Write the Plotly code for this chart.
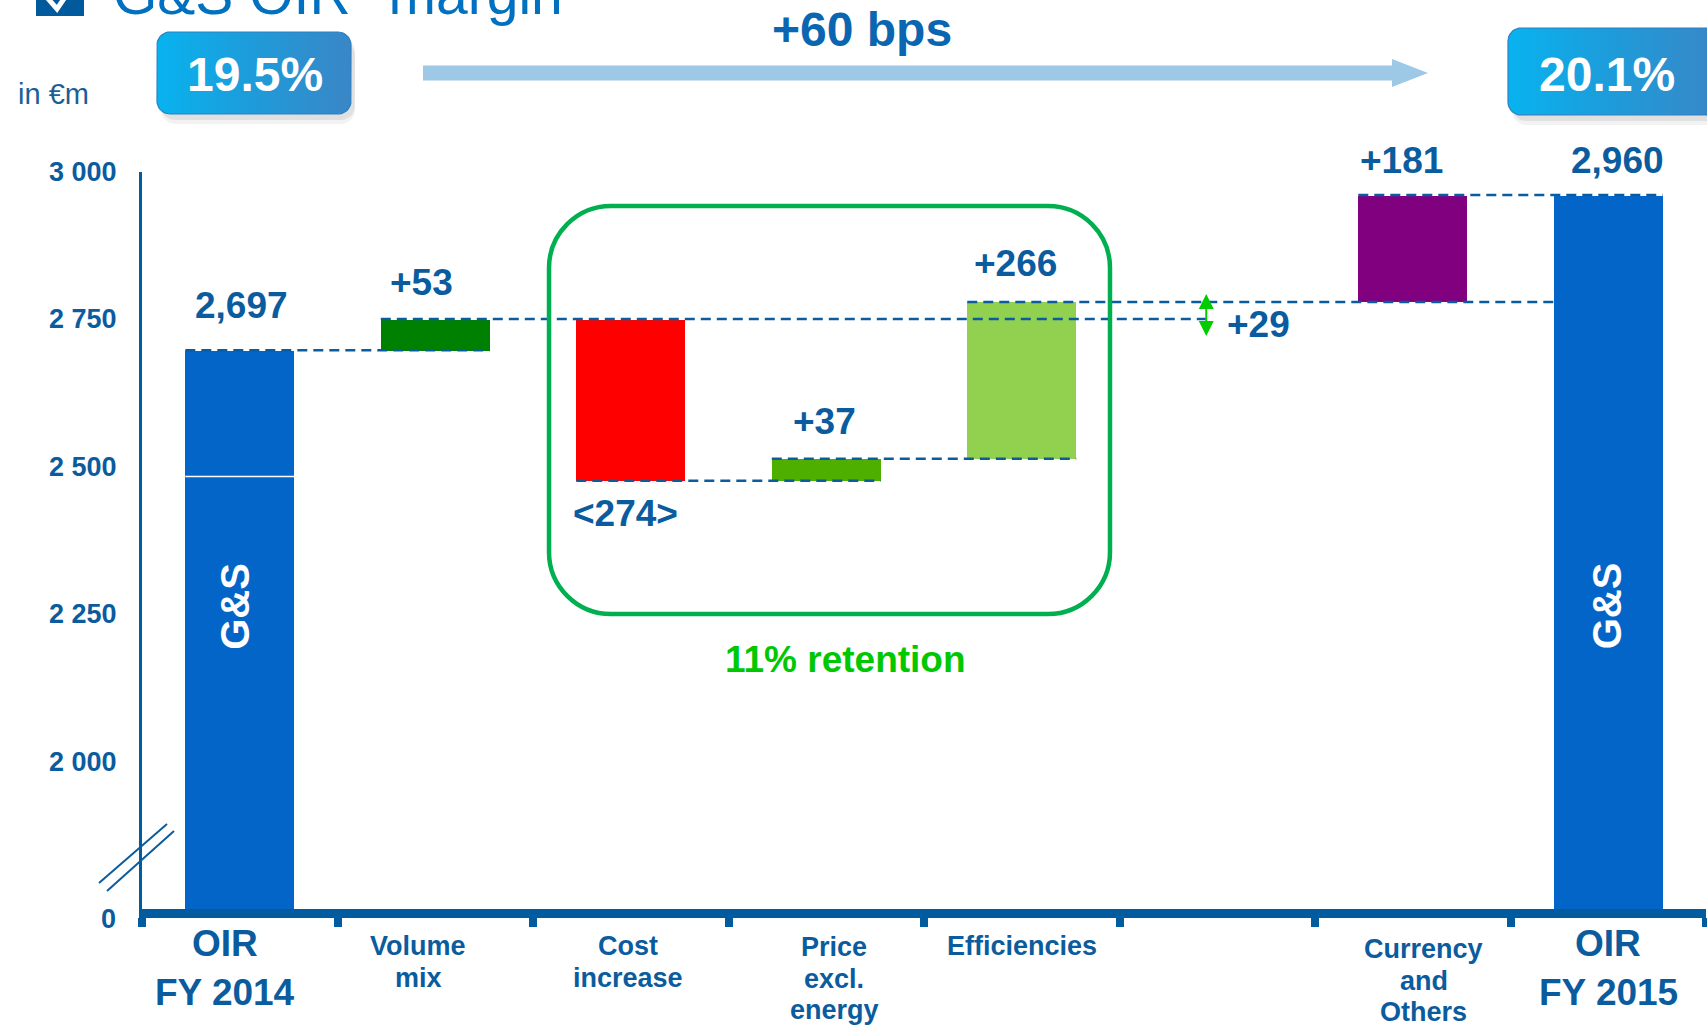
import numpy as np
import plotly.graph_objects as go

# ---------------------------------------------------------------- data
categories = ["OIR FY 2014", "Volume mix", "Cost increase", "Price excl. energy",
              "Efficiencies", "Net of cost items", "Currency and Others", "OIR FY 2015"]
category_labels = ["OIR<br>FY 2014", "Volume<br>mix", "Cost<br>increase",
                   "Price<br>excl.<br>energy", "Efficiencies", "",
                   "Currency<br>and<br>Others", "OIR<br>FY 2015"]
segment_name = "G&S"

oir_fy2014 = 2697
volume_mix = 53
cost_increase = -274
price_excl_energy = 37
efficiencies = 266
currency_others = 181
oir_fy2015 = 2960

margin_fy2014 = "19.5%"
margin_fy2015 = "20.1%"
margin_change = "+60 bps"
retention_label = "11% retention"

ytick_vals = [1750, 2000, 2250, 2500, 2750, 3000]
ytick_text = ["0", "2 000", "2 250", "2 500", "2 750", "3 000"]

# ---------------------------------------------------------------- page geometry
W, H = 1707, 1026
PLOT_L, PLOT_R = 142, 1706
PLOT_T, PLOT_B = 171.5, 909
Y_MIN, Y_MAX = 1750, 3000
PPU = (PLOT_B - PLOT_T) / (Y_MAX - Y_MIN)   # pixels per EUR m
CAT_PX = (PLOT_R - PLOT_L) / len(categories)  # pixels per category slot
BAR_W = 0.557

FONT = "Arial, 'Liberation Sans', sans-serif"
NAVY = "#0B5C9E"
BLUE_BAR = "#0465C9"
ARROW_GREEN = "#00CC00"


def px(x):
    return x / W


def py(y):
    return 1 - y / H


def rounded_path(x0, y0, x1, y1, r):
    """Rounded rectangle path in paper coordinates from pixel corners."""
    k = 0.5523 * r
    P = lambda x, y: f"{px(x):.5f},{py(y):.5f}"
    return (f"M{P(x0 + r, y0)} L{P(x1 - r, y0)} "
            f"C{P(x1 - r + k, y0)} {P(x1, y0 + r - k)} {P(x1, y0 + r)} "
            f"L{P(x1, y1 - r)} C{P(x1, y1 - r + k)} {P(x1 - r + k, y1)} {P(x1 - r, y1)} "
            f"L{P(x0 + r, y1)} C{P(x0 + r - k, y1)} {P(x0, y1 - r + k)} {P(x0, y1 - r)} "
            f"L{P(x0, y0 + r)} C{P(x0, y0 + r - k)} {P(x0 + r - k, y0)} {P(x0 + r, y0)} Z")


def rounded_outline(x0, y0, x1, y1, r, n=10):
    """Outline points of a rounded rectangle in pixel space (y pointing down)."""
    xs, ys = [], []
    corners = [(x1 - r, y0 + r, -90, 0), (x1 - r, y1 - r, 0, 90),
               (x0 + r, y1 - r, 90, 180), (x0 + r, y0 + r, 180, 270)]
    for cx, cy, a0, a1 in corners:
        for a in np.linspace(np.radians(a0), np.radians(a1), n):
            xs.append(cx + r * np.cos(a))
            ys.append(cy + r * np.sin(a))
    xs.append(xs[0])
    ys.append(ys[0])
    return xs, ys


# ---------------------------------------------------------------- waterfall levels
after_volume = oir_fy2014 + volume_mix
after_cost = after_volume + cost_increase
after_price = after_cost + price_excl_energy
after_eff = after_price + efficiencies
net_cost_items = cost_increase + price_excl_energy + efficiencies
after_currency = after_eff + currency_others

bar_bases = [0, oir_fy2014, after_volume, after_cost, after_price, 0, after_eff, 0]
bar_heights = [oir_fy2014, volume_mix, cost_increase, price_excl_energy,
               efficiencies, None, currency_others, oir_fy2015]
bar_colors = [BLUE_BAR, "#008000", "#FF0000", "#4FAF00", "#92D050",
              "#FFFFFF", "#800080", BLUE_BAR]

fig = go.Figure()
fig.add_trace(go.Bar(
    x=categories, y=bar_heights, base=bar_bases, width=BAR_W,
    marker=dict(color=bar_colors, line=dict(width=0)),
    hoverinfo="skip", showlegend=False,
))

shapes = []
annotations = []
DASH = dict(color=NAVY, width=2.5, dash="10px,6px")


# dashed connectors between bar edges
def connector(x0, x1, y):
    shapes.append(dict(type="line", xref="x", yref="y", x0=x0, x1=x1,
                       y0=y, y1=y, line=DASH))


half = BAR_W / 2
net_x = 5 - 11 / CAT_PX          # column of the double arrow
connector(0 - half, 1 + half, oir_fy2014)
connector(1 - half, net_x, after_volume)
connector(2 - half, 3 + half, after_cost)
connector(3 - half, 4 + half, after_price)
connector(4 - half, 7 - half, after_eff)
connector(6 - half, 7 + half, after_currency)

# divider inside the opening bar
shapes.append(dict(type="line", xref="x", yref="y", x0=-half, x1=half,
                   y0=2483, y1=2483, line=dict(color="white", width=1.5)))

# double arrow spanning the net effect of the cost items
tip_hi = after_eff + 8 / PPU
tip_lo = after_volume - 17 / PPU
head_len = 15 / PPU
head_half = 7.5 / CAT_PX
shapes.append(dict(type="line", xref="x", yref="y", x0=net_x, x1=net_x,
                   y0=tip_lo + head_len, y1=tip_hi - head_len,
                   line=dict(color=ARROW_GREEN, width=2)))
for tip, sgn in [(tip_hi, -1), (tip_lo, 1)]:
    base = tip + sgn * head_len
    shapes.append(dict(type="path", xref="x", yref="y",
                       path=f"M{net_x - head_half},{base} L{net_x},{tip} L{net_x + head_half},{base} Z",
                       fillcolor=ARROW_GREEN, line=dict(width=0)))

# axis break marks
for (xa, ya, xb, yb) in [(99, 883, 167, 824), (107, 891, 174, 831)]:
    shapes.append(dict(type="line", xref="paper", yref="paper",
                       x0=px(xa), y0=py(ya), x1=px(xb), y1=py(yb),
                       line=dict(color=NAVY, width=2)))

# retention box around the cost items
shapes.append(dict(type="path", xref="paper", yref="paper",
                   path=rounded_path(549, 206, 1110, 614, 62),
                   line=dict(color="#00B050", width=4.5), fillcolor="rgba(0,0,0,0)"))

# margin change arrow
shaft_y0, shaft_y1, head_y0, head_y1 = 65.5, 80.5, 59, 87
arrow_pts = [(423, shaft_y0), (1392, shaft_y0), (1392, head_y0), (1428, 73),
             (1392, head_y1), (1392, shaft_y1), (423, shaft_y1)]
arrow_path = "M" + " L".join(f"{px(x):.5f},{py(y):.5f}" for x, y in arrow_pts) + " Z"
shapes.append(dict(type="path", xref="paper", yref="paper", path=arrow_path,
                   fillcolor="#9DC8E6", line=dict(width=0)))

# title icon
shapes.append(dict(type="rect", xref="paper", yref="paper",
                   x0=px(36), x1=px(84), y0=py(16), y1=py(-40),
                   fillcolor="#005A9C", line=dict(width=0)))
check = [(44, -6), (57, 9), (78, -22)]
shapes.append(dict(type="path", xref="paper", yref="paper",
                   path="M" + " L".join(f"{px(x):.5f},{py(y):.5f}" for x, y in check),
                   line=dict(color="white", width=5)))

# ---------------------------------------------------------------- margin badges (pixel overlay)
for (x0, y0, x1, y1, txt, cx) in [(157, 32, 351, 114, margin_fy2014, 255),
                                  (1508, 28, 1722, 115, margin_fy2015, 1607)]:
    for off, alpha in [(10, 0.05), (6, 0.07)]:
        sx, sy = rounded_outline(x0 + 4, y0 + off, x1 + 4, y1 + off, 14)
        fig.add_trace(go.Scatter(x=sx, y=sy, xaxis="x2", yaxis="y2", mode="lines",
                                 fill="toself", fillcolor=f"rgba(0,0,0,{alpha})",
                                 line=dict(width=0), hoverinfo="skip", showlegend=False))
    bx, by = rounded_outline(x0, y0, x1, y1, 13)
    fig.add_trace(go.Scatter(
        x=bx, y=by, xaxis="x2", yaxis="y2", mode="lines", fill="toself",
        fillgradient=dict(type="horizontal",
                          colorscale=[[0, "#07B3EF"], [0.45, "#1C9DDB"], [1, "#3A86C6"]]),
        line=dict(color="#2A80C2", width=1.2), hoverinfo="skip", showlegend=False))
    annotations.append(dict(xref="paper", yref="paper", x=px(cx), y=py(74),
                            text=f"<b>{txt}</b>", showarrow=False,
                            xanchor="center", yanchor="middle",
                            font=dict(family=FONT, size=48, color="white")))

# ---------------------------------------------------------------- texts
annotations.append(dict(xref="paper", yref="paper", x=px(111), y=py(28),
                        text="G&S OIR* margin", showarrow=False,
                        xanchor="left", yanchor="bottom",
                        font=dict(family=FONT, size=57, color="#0070C0")))
annotations.append(dict(xref="paper", yref="paper", x=px(16), y=py(94),
                        text="in €m", showarrow=False, xanchor="left", yanchor="middle",
                        font=dict(family=FONT, size=29, color="#1A5E9A")))
annotations.append(dict(xref="paper", yref="paper", x=px(862), y=py(29),
                        text=f"<b>{margin_change}</b>", showarrow=False,
                        xanchor="center", yanchor="middle",
                        font=dict(family=FONT, size=48, color="#0A66B0")))
annotations.append(dict(xref="paper", yref="paper", x=px(845), y=py(659),
                        text=f"<b>{retention_label}</b>", showarrow=False,
                        xanchor="center", yanchor="middle",
                        font=dict(family=FONT, size=37, color="#00C800")))
# zero label of the broken axis, set just under the axis line
annotations.append(dict(xref="paper", yref="paper", x=px(118), y=py(919),
                        text=f"<b>{ytick_text[0]}</b>", showarrow=False,
                        xanchor="right", yanchor="middle",
                        font=dict(family=FONT, size=27, color=NAVY)))

# segment name written up the two total bars
for i, dx in [(0, -5), (7, -1)]:
    annotations.append(dict(xref="x", yref="paper", x=i, y=py(606),
                            text=f"<b>{segment_name}</b>", showarrow=False,
                            textangle=-90, xanchor="center", yanchor="middle",
                            xshift=dx,
                            font=dict(family=FONT, size=40, color="white")))


def fmt_delta(v):
    return f"+{v}" if v > 0 else f"<{abs(v)}>"


value_labels = [
    (0, f"{oir_fy2014:,}", oir_fy2014, "above", 2, 22),
    (1, fmt_delta(volume_mix), after_volume, "above", -14, 14),
    (2, fmt_delta(cost_increase), after_cost, "below", -5, -10),
    (3, fmt_delta(price_excl_energy), after_price, "above", -2, 15),
    (4, fmt_delta(efficiencies), after_eff, "above", -6, 16),
    (6, fmt_delta(currency_others), after_currency, "above", -11, 12),
    (7, f"{oir_fy2015:,}", oir_fy2015, "above", 9, 12),
]
for i, txt, yv, pos, dx, dy in value_labels:
    annotations.append(dict(xref="x", yref="y", x=i, y=yv, text=f"<b>{txt}</b>",
                            showarrow=False, xanchor="center",
                            yanchor="bottom" if pos == "above" else "top",
                            xshift=dx, yshift=dy,
                            font=dict(family=FONT, size=37, color=NAVY)))

annotations.append(dict(xref="x", yref="y", x=5, y=after_volume,
                        text=f"<b>+{net_cost_items}</b>", showarrow=False,
                        xanchor="left", yanchor="middle", xshift=8, yshift=-5,
                        font=dict(family=FONT, size=37, color=NAVY)))

# category labels under the axis, one annotation per line for tight leading
label_shift = [-15, -17, -3, 8, 0, 0, 11, 0]
label_top = [943, 946, 946, 947, 946, 946, 949, 943]
for i, lab in enumerate(category_labels):
    big = lab.startswith("OIR")
    step = 49 if big else 31.6
    for k, line in enumerate(lab.split("<br>")):
        if not line:
            continue
        annotations.append(dict(xref="x", yref="paper", x=i,
                                y=py(label_top[i] + k * step),
                                text=f"<b>{line}</b>", showarrow=False,
                                xanchor="center", yanchor="middle",
                                xshift=label_shift[i],
                                font=dict(family=FONT, size=37 if big else 27, color=NAVY)))

fig.update_layout(
    width=W, height=H, autosize=False,
    margin=dict(l=0, r=0, t=0, b=0, pad=0, autoexpand=False),
    paper_bgcolor="white", plot_bgcolor="rgba(0,0,0,0)",
    bargap=0, showlegend=False,
    xaxis=dict(domain=[px(PLOT_L), px(PLOT_R)], type="category",
               categoryorder="array", categoryarray=categories,
               showline=True, linewidth=9, linecolor="#005C9E",
               ticks="outside", tickson="boundaries", ticklen=9, tickwidth=8,
               tickcolor="#005C9E", showticklabels=False, automargin=False,
               showgrid=False, zeroline=False, fixedrange=True),
    yaxis=dict(domain=[py(PLOT_B), py(PLOT_T)], range=[Y_MIN, Y_MAX],
               tickvals=ytick_vals[1:], ticktext=ytick_text[1:],
               showline=True, linewidth=3, linecolor="#005C9E",
               ticks="", ticklabelstandoff=17, automargin=False,
               tickfont=dict(family=FONT, size=27, color=NAVY, weight="bold"),
               showgrid=False, zeroline=False, fixedrange=True),
    xaxis2=dict(domain=[0, 1], range=[0, W], visible=False, anchor="y2",
                automargin=False, fixedrange=True),
    yaxis2=dict(domain=[0, 1], range=[H, 0], visible=False, anchor="x2",
                automargin=False, fixedrange=True),
    shapes=shapes,
    annotations=annotations,
)

fig.write_html("out.html", config={"displayModeBar": False})
